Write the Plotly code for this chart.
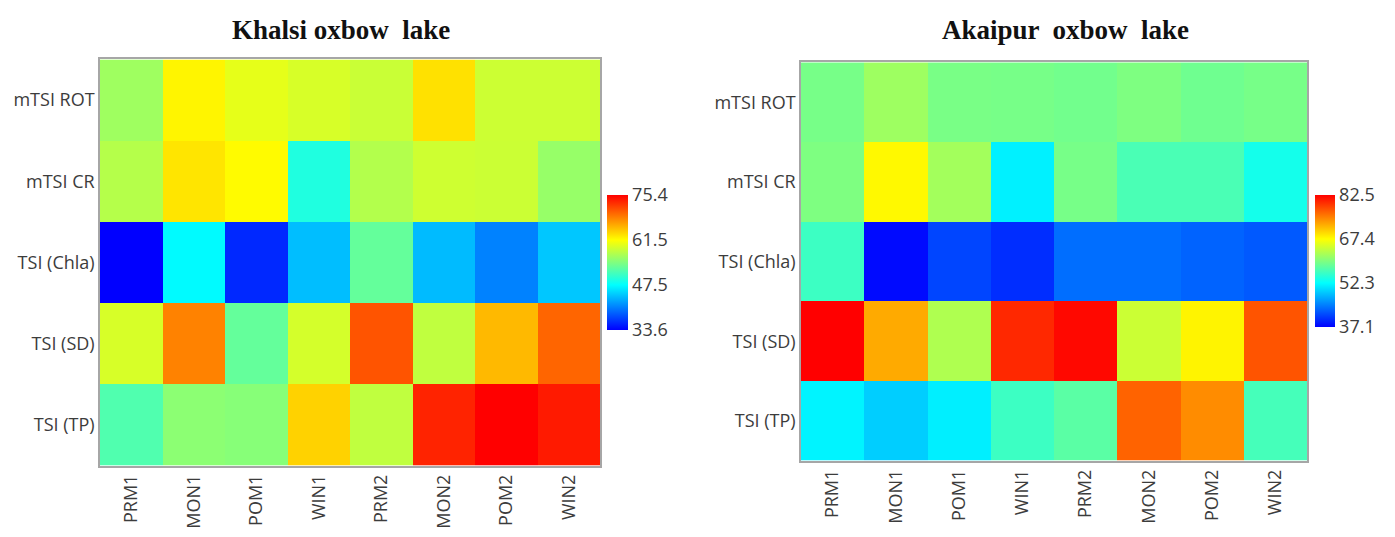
import plotly.graph_objects as go

seasons = ["PRM1", "MON1", "POM1", "WIN1", "PRM2", "MON2", "POM2", "WIN2"]
indices = ["mTSI ROT", "mTSI CR", "TSI (Chla)", "TSI (SD)", "TSI (TP)"]

khalsi_rot = [56.2, 62.0, 60.1, 59.3, 58.5, 63.1, 58.7, 58.7]
khalsi_cr = [57.4, 62.9, 61.7, 49.2, 57.3, 58.8, 58.6, 55.8]
khalsi_chla = [33.6, 47.3, 35.8, 44.0, 53.0, 43.8, 40.7, 44.5]
khalsi_sd = [59.3, 68.3, 53.0, 59.1, 70.8, 58.0, 65.3, 69.9]
khalsi_tp = [51.9, 55.2, 54.9, 63.9, 58.0, 73.5, 75.4, 74.0]

akaipur_rot = [59.3, 61.6, 59.4, 59.3, 59.0, 59.7, 58.8, 59.3]
akaipur_cr = [59.7, 67.7, 61.9, 51.4, 59.3, 56.6, 56.6, 53.4]
akaipur_chla = [55.8, 37.7, 41.2, 39.8, 43.6, 43.6, 43.0, 42.4]
akaipur_sd = [82.5, 72.4, 62.6, 80.1, 82.0, 64.3, 68.0, 77.5]
akaipur_tp = [51.6, 49.3, 51.3, 55.8, 57.6, 76.6, 74.2, 56.3]

khalsi_ticks = [33.6, 47.5, 61.5, 75.4]
akaipur_ticks = [37.1, 52.3, 67.4, 82.5]

titles = ["Khalsi oxbow  lake", "Akaipur  oxbow  lake"]

scale = [
    [0.0, "rgb(0,0,255)"],
    [1 / 3, "rgb(0,255,255)"],
    [2 / 3, "rgb(255,255,0)"],
    [1.0, "rgb(255,0,0)"],
]

# page body has an 8px margin; size the figure to fit inside the window
OFF = 8
W, H = 1395 - 2 * OFF, 537 - 2 * OFF


def px_x(v):
    return (v - OFF) / W


def px_y(v):
    return 1 - (v - OFF) / H


sans = "Open Sans, Noto Sans, sans-serif"
tick_font = dict(family=sans, size=18, color="#3c3c3c")
cb_font = dict(family=sans, size=18, color="#3c3c3c")

fig = go.Figure()

fig.add_trace(go.Heatmap(
    z=[khalsi_rot, khalsi_cr, khalsi_chla, khalsi_sd, khalsi_tp],
    x=seasons, y=indices,
    colorscale=scale, zmin=khalsi_ticks[0], zmax=khalsi_ticks[-1],
    xaxis="x", yaxis="y",
    colorbar=dict(
        x=px_x(607), xanchor="left", xref="paper",
        y=px_y(265.5), yanchor="middle", yref="paper",
        len=135, lenmode="pixels", thickness=21, thicknessmode="pixels",
        xpad=0, ypad=0, outlinewidth=0,
        tickvals=khalsi_ticks, ticktext=[str(t) for t in khalsi_ticks],
        ticks="", tickfont=cb_font,
    ),
))

fig.add_trace(go.Heatmap(
    z=[akaipur_rot, akaipur_cr, akaipur_chla, akaipur_sd, akaipur_tp],
    x=seasons, y=indices,
    colorscale=scale, zmin=akaipur_ticks[0], zmax=akaipur_ticks[-1],
    xaxis="x2", yaxis="y2",
    colorbar=dict(
        x=px_x(1315), xanchor="left", xref="paper",
        y=px_y(264), yanchor="middle", yref="paper",
        len=132, lenmode="pixels", thickness=20, thicknessmode="pixels",
        xpad=0, ypad=0, outlinewidth=0,
        tickvals=akaipur_ticks, ticktext=[str(t) for t in akaipur_ticks],
        ticks="", tickfont=cb_font,
    ),
))

axis_common = dict(showline=True, mirror=True, linecolor="#a6a6a6", linewidth=1.5,
                   showgrid=False, zeroline=False, ticks="", tickfont=tick_font)

fig.update_layout(
    width=W, height=H,
    margin=dict(l=0, r=0, t=0, b=0),
    paper_bgcolor="white", plot_bgcolor="white",
    xaxis=dict(domain=[px_x(100), px_x(600)], anchor="y", tickangle=-90, **axis_common),
    yaxis=dict(domain=[px_y(471), px_y(60)], anchor="x", autorange="reversed", **axis_common),
    xaxis2=dict(domain=[px_x(801), px_x(1307)], anchor="y2", tickangle=-90, **axis_common),
    yaxis2=dict(domain=[px_y(466), px_y(63)], anchor="x2", autorange="reversed", **axis_common),
    annotations=[
        dict(text="<b>" + titles[0] + "</b>", x=px_x(341), y=px_y(30), xref="paper", yref="paper",
             showarrow=False, xanchor="center", yanchor="middle",
             font=dict(family="Liberation Serif, Times New Roman, serif", size=27, color="#111111")),
        dict(text="<b>" + titles[1] + "</b>", x=px_x(1065), y=px_y(30), xref="paper", yref="paper",
             showarrow=False, xanchor="center", yanchor="middle",
             font=dict(family="Liberation Serif, Times New Roman, serif", size=27, color="#111111")),
    ],
)

fig.write_html("out.html")
